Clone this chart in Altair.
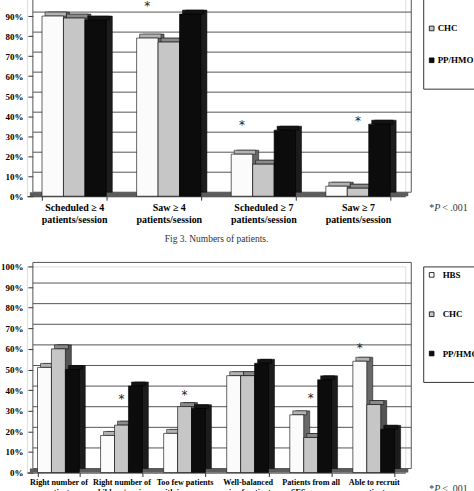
import altair as alt
import pandas as pd

SERIES = ["HBS", "CHC", "PP/HMO"]

# Fig 3: numbers of patients
volume_categories = [
    "Scheduled ≥ 4\npatients/session",
    "Saw ≥ 4\npatients/session",
    "Scheduled ≥ 7\npatients/session",
    "Saw ≥ 7\npatients/session",
]
volume_hbs = [90, 79, 21, 5]
volume_chc = [89, 77, 16, 4]
volume_pp = [88, 91, 33, 36]
volume_star_category = [1, 2, 3]
volume_star_series = ["HBS", "HBS", "CHC"]
volume_star_level = [95, 35.5, 37.5]

# Perceptions of patient volume and mix
mix_categories = [
    "Right number of\npatients",
    "Right number of\nchildren/session",
    "Too few patients\nwith insurance",
    "Well-balanced\nmix of patients",
    "Patients from all\nSES groups",
    "Able to recruit\npatients",
]
mix_hbs = [51, 18, 19, 47, 28, 54]
mix_chc = [60, 23, 32, 47, 17, 33]
mix_pp = [50, 42, 31, 53, 45, 21]
mix_star_category = [1, 2, 4, 5]
mix_star_series = ["CHC", "CHC", "CHC", "HBS"]
mix_star_level = [35.5, 37.5, 36, 60.5]

gridline_levels = [0, 10, 20, 30, 40, 50, 60, 70, 80, 90, 100]

FONT = "Liberation Serif"
FRONT = ["#fbfbfb", "#c6c6c6", "#0c0c0c"]
SIDE = ["#686868", "#545454", "#1c1c1c"]
TOP = ["#b2b2b2", "#8a8a8a", "#141414"]
DX, DY = 6, 4  # depth of the pseudo-3D columns


def panel(categories, series_values, star_cat, star_series, star_level,
          width, height, pad_inner, label_size, label_padding, legend_x, legend_y,
          row_padding, label_offset, note_y, caption=None):
    rows = []
    for s, vals in zip(SERIES, series_values):
        for c, v in zip(categories, vals):
            rows.append({"category": c, "series": s, "value": v / 100})
    bars = pd.DataFrame(rows)
    stars = pd.DataFrame({
        "category": [categories[i] for i in star_cat],
        "series": star_series,
        "value": [v / 100 for v in star_level],
    })
    levels = [g / 100 for g in gridline_levels]
    grid = pd.DataFrame({"value": levels})
    floor_df = pd.DataFrame({"value": [0.0]})
    walls_df = pd.DataFrame({"edge": [0, width], "value": [0.0, 0.0], "value2": [1.0, 1.0]})
    bw = width / len(categories) * (1 - pad_inner)

    x_axis = alt.Axis(
        title=caption if caption else None,
        labelExpr="split(datum.label, '\\n')",
        labelAngle=0, labelFont=FONT, labelFontWeight="bold",
        labelFontSize=label_size, labelLineHeight=label_size * 1.2,
        labelColor="black", labelPadding=label_padding, tickBand="extent",
        tickSize=4, tickColor="#333", domainColor="#333",
        titleFont=FONT, titleFontWeight="normal", titleFontSize=9.5,
        titleColor="#333", titlePadding=9,
    )
    X = alt.X("category:N", sort=categories, axis=x_axis,
              scale=alt.Scale(paddingInner=pad_inner, paddingOuter=pad_inner / 2))
    y_axis = alt.Axis(
        title=None, format="%", values=levels, tickCount=len(levels),
        labelOverlap=False, grid=False, domain=False, offset=-DX, tickSize=5,
        tickColor="#333", labelPadding=5, labelFont=FONT, labelFontWeight="bold",
        labelFontSize=9, labelColor="black",
    )
    Y = alt.Y("value:Q", scale=alt.Scale(domain=[0, 1]), axis=y_axis)

    def offset(rng):
        return alt.XOffset("series:N", sort=SERIES,
                           scale=alt.Scale(domain=SERIES, range=rng))

    floor = alt.Chart(floor_df).mark_rect(
        color="#5c5c5c", xOffset=DX / 2, x2Offset=DX / 2, yOffset=-DY, y2Offset=0
    ).encode(x=alt.value(0), x2=alt.value(width), y=Y, y2=alt.Y2("value:Q"))

    gridlines = alt.Chart(grid).mark_rule(
        color="#555", strokeWidth=1, xOffset=DX, x2Offset=DX, yOffset=-DY
    ).encode(x=alt.value(0), x2=alt.value(width), y=Y)

    walls = alt.Chart(walls_df).mark_rule(
        color="#555", strokeWidth=1, xOffset=DX, yOffset=-DY, y2Offset=-DY
    ).encode(x=alt.X("edge:Q", scale=None), y=Y, y2=alt.Y2("value2:Q"))

    side = alt.Chart(bars).mark_bar(
        stroke="black", strokeWidth=0.5, yOffset=-DY, y2Offset=-DY
    ).encode(
        x=X, y=Y, xOffset=offset([DX, bw + DX]),
        fill=alt.Fill("series:N", scale=alt.Scale(domain=SERIES, range=SIDE), legend=None),
    )

    top = alt.Chart(bars).mark_bar(
        stroke="black", strokeWidth=0.5, yOffset=-DY, y2Offset=0
    ).encode(
        x=X, y=Y, y2=alt.Y2("value:Q"), xOffset=offset([DX / 2, bw + DX / 2]),
        fill=alt.Fill("series:N", scale=alt.Scale(domain=SERIES, range=TOP), legend=None),
    )

    front = alt.Chart(bars).mark_bar(stroke="black", strokeWidth=0.6).encode(
        x=X, y=Y, xOffset=offset([0, bw]),
        color=alt.Color(
            "series:N", sort=SERIES,
            scale=alt.Scale(domain=SERIES, range=FRONT),
            legend=alt.Legend(
                title=" ", titleOrient="bottom", titleFontSize=9, titlePadding=10,
                orient="none", legendX=legend_x, legendY=legend_y,
                strokeColor="#333", padding=4, rowPadding=row_padding,
                symbolType="square", symbolSize=22, symbolStrokeColor="black",
                symbolStrokeWidth=0.8, labelFont=FONT, labelFontWeight="bold",
                labelFontSize=9, labelColor="black", labelOffset=label_offset,
            ),
        ),
    )

    star_marks = alt.Chart(stars).mark_text(
        text="*", font="DejaVu Sans", fontSize=12, color="#222", baseline="middle"
    ).encode(x=X, y=Y, xOffset=offset([0, bw]))

    # significance note beside the category labels
    note_parts = [("*", 24, "normal"), ("P", 29, "italic"), ("< .001", 37, "normal")]
    notes = [
        alt.Chart(pd.DataFrame({"t": [t]})).mark_text(
            font=FONT, fontSize=10, fontStyle=style, color="#333",
            align="left", baseline="middle",
        ).encode(x=alt.value(width + dx), y=alt.value(height + note_y), text="t:N")
        for t, dx, style in note_parts
    ]

    return alt.layer(
        floor, gridlines, walls, side, top, front, star_marks, *notes
    ).resolve_scale(
        xOffset="independent", fill="independent"
    ).properties(width=width, height=height)


volume = panel(
    volume_categories, [volume_hbs, volume_chc, volume_pp],
    volume_star_category, volume_star_series, volume_star_level,
    width=380, height=201, pad_inner=0.32, label_size=10, label_padding=2,
    legend_x=398, legend_y=-8, row_padding=22, label_offset=1.5, note_y=12,
    caption="Fig 3. Numbers of patients.",
)
mix = panel(
    mix_categories, [mix_hbs, mix_chc, mix_pp],
    mix_star_category, mix_star_series, mix_star_level,
    width=380, height=207, pad_inner=0.337, label_size=8.2, label_padding=2,
    legend_x=398, legend_y=0, row_padding=29.5, label_offset=6.5, note_y=17,
)

chart = alt.vconcat(volume, mix, spacing=18.5).resolve_scale(
    color="independent"
).resolve_legend(color="independent").properties(
    padding={"left": 0, "top": -14, "right": -10, "bottom": -7.5}
).configure_view(stroke=None).configure(font=FONT)

chart.save("out.html", embed_options={"renderer": "svg", "actions": False})
